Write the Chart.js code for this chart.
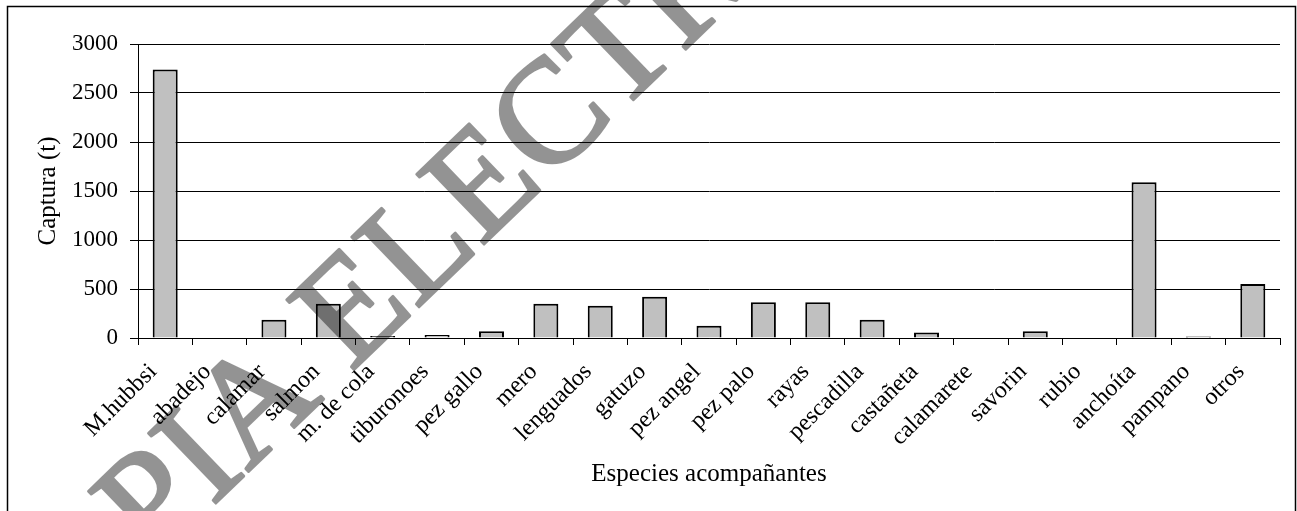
<!DOCTYPE html>
<html>
<head>
<meta charset="utf-8">
<script src="https://cdn.jsdelivr.net/npm/chart.js@4.4.1/dist/chart.umd.min.js"></script>
<style>
  html, body { margin: 0; padding: 0; background: #fff; overflow: hidden; }
  canvas { display: block; }
</style>
</head>
<body>
<canvas id="grafico" width="1297" height="511"></canvas>
<script>
// datos
const especies = ['M.hubbsi', 'abadejo', 'calamar', 'salmon', 'm. de cola', 'tiburonoes', 'pez gallo',
  'mero', 'lenguados', 'gatuzo', 'pez angel', 'pez palo', 'rayas', 'pescadilla', 'castañeta',
  'calamarete', 'savorin', 'rubio', 'anchoíta', 'pampano', 'otros'];
const captura = [2740, 0, 185, 350, 20, 30, 70, 350, 330, 420, 125, 365, 365, 185, 55, 0, 70, 0, 1590, 15, 550];
const yTicks = [0, 500, 1000, 1500, 2000, 2500, 3000];
const marca = 'COPIA ELECTRONICA';

Chart.defaults.font.family = '"Liberation Serif", "Times New Roman", serif';
Chart.defaults.color = '#000';

// fondo, marco exterior y marca de agua
const marco = {
  id: 'marco',
  beforeDraw(chart) {
    const ctx = chart.ctx;
    ctx.save();
    ctx.fillStyle = '#fff';
    ctx.fillRect(0, 0, chart.width, chart.height);
    ctx.restore();
  },
  afterDraw(chart) {
    const ctx = chart.ctx;
    ctx.save();
    ctx.strokeStyle = '#000';
    ctx.lineWidth = 1.5;
    ctx.beginPath();
    ctx.moveTo(7.5, 530);
    ctx.lineTo(7.5, 6.5);
    ctx.lineTo(1295.5, 6.5);
    ctx.lineTo(1295.5, 530);
    ctx.stroke();
    ctx.restore();

    // marca de agua: se dibuja opaca aparte y se pega con transparencia
    const capa = document.createElement('canvas');
    capa.width = chart.width;
    capa.height = chart.height;
    const c2 = capa.getContext('2d');
    const size = 148;
    c2.font = size + 'px "Liberation Serif"';
    const ang = -44 * Math.PI / 180;
    const lx = c2.measureText('COPIA ').width + 0.02 * size;
    const ly = -0.662 * size;
    const ox = 285 - (lx * Math.cos(ang) - ly * Math.sin(ang));
    const oy = 300 - (lx * Math.sin(ang) + ly * Math.cos(ang));
    c2.translate(ox, oy);
    c2.rotate(ang);
    c2.fillStyle = '#000';
    c2.strokeStyle = '#000';
    c2.lineWidth = 3;
    c2.lineJoin = 'round';
    c2.textBaseline = 'alphabetic';
    c2.fillText(marca, 0, 0);
    c2.strokeText(marca, 0, 0);

    ctx.save();
    ctx.globalAlpha = 0.42;
    ctx.drawImage(capa, 0, 0);
    ctx.restore();
  }
};

const ctx = document.getElementById('grafico').getContext('2d');
const grafico = new Chart(ctx, {
  type: 'bar',
  data: {
    labels: especies,
    datasets: [{
      label: 'Captura (t)',
      data: captura,
      backgroundColor: '#c0c0c0',
      borderColor: '#000',
      borderWidth: 2,
      barPercentage: 0.46,
      categoryPercentage: 1
    }]
  },
  options: {
    responsive: false,
    animation: false,
    devicePixelRatio: 1,
    layout: { padding: { left: 0, right: 17, top: 44, bottom: 0 } },
    plugins: {
      legend: { display: false },
      tooltip: { enabled: false }
    },
    scales: {
      x: {
        grid: { drawOnChartArea: false, drawTicks: true, tickLength: 7, color: '#000', lineWidth: 1, offset: true },
        border: { color: '#000', width: 1 },
        ticks: {
          color: '#000', font: { size: 24 }, minRotation: 45, maxRotation: 45, autoSkip: false,
          padding: 13, labelOffset: -12
        },
        title: {
          display: true, text: 'Especies acompañantes', color: '#000',
          font: { size: 25, lineHeight: 1.2 }, padding: { top: 0, bottom: 22 }
        },
        afterFit(s) { s.height = 173; }
      },
      y: {
        min: 0,
        max: 3000,
        afterBuildTicks(s) { s.ticks = yTicks.map(v => ({ value: v })); },
        grid: { color: '#000', tickLength: 8, lineWidth: 1 },
        border: { color: '#000', width: 1 },
        ticks: { color: '#000', font: { size: 23 }, padding: 12, callback: v => String(v) },
        title: {
          display: true, text: 'Captura (t)', color: '#000',
          font: { size: 25, lineHeight: 1.2 }, padding: { top: 33, bottom: 0 }
        },
        afterFit(s) { s.width = 138; }
      }
    }
  },
  plugins: [marco]
});
</script>
</body>
</html>
